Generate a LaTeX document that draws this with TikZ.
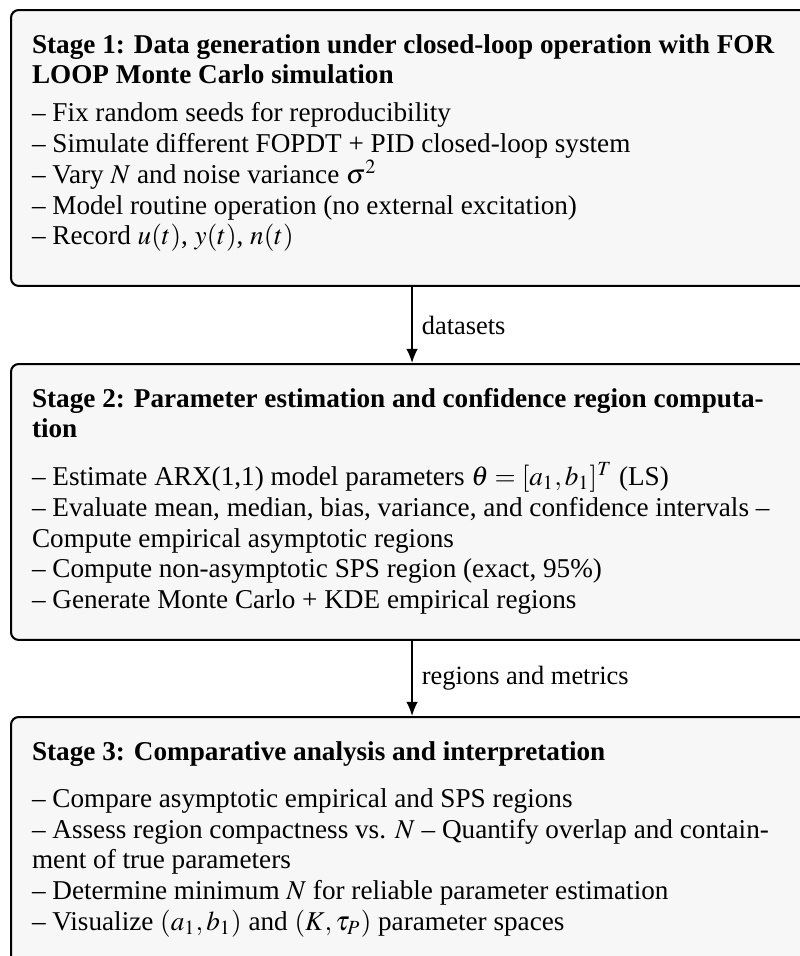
\documentclass[tikz,border=0pt]{standalone}
\usepackage{mathptmx}
\usepackage{fontspec}
\setmainfont{Liberation Serif}
\usetikzlibrary{arrows.meta}
\definecolor{boxfill}{HTML}{F7F7F7}
\newcommand{\stagebody}[1]{\parbox[t][90.8pt][t]{296.4pt}{\fontsize{10.6pt}{12pt}\selectfont\strut #1}}

\begin{document}
\begin{tikzpicture}[x=0.39pt, y=-0.39pt,
  stagebox/.style={draw=black, fill=boxfill, rounded corners=3pt, line width=0.8pt, anchor=north west, inner xsep=8.2pt, inner ysep=8.4pt},
  flowlabel/.style={right, xshift=0.2pt, font=\fontsize{10.3pt}{12pt}\selectfont},
  arr/.style={-{Latex[length=5.5pt,width=4.5pt]}, line width=0.6pt}]
\useasboundingbox (0,0) rectangle (800,956);

\node[stagebox] at (10,9) (stage1) {\stagebody{%
  \textbf{Stage 1: Data generation under closed-loop operation with FOR\\ LOOP Monte Carlo simulation}\\[2.8pt]
  -- Fix random seeds for reproducibility\\
  -- Simulate different FOPDT + PID closed-loop system\\
  -- Vary $N$ and noise variance $\sigma^2$\\
  -- Model routine operation (no external excitation)\\
  -- Record $u(t)$, $y(t)$, $n(t)$}};

\node[stagebox] at (10,363) (stage2) {\stagebody{%
  \textbf{Stage 2: Parameter estimation and confidence region computa-\\tion}\\[6.6pt]
  -- Estimate ARX(1,1) model parameters $\theta=[a_1,b_1]^T$ (LS)\\
  -- Evaluate mean, median, bias, variance, and confidence intervals --\\
  Compute empirical asymptotic regions\\
  -- Compute non-asymptotic SPS region (exact, 95\%)\\
  -- Generate Monte Carlo + KDE empirical regions}};

\node[stagebox] at (10,716) (stage3) {\stagebody{%
  \textbf{Stage 3: Comparative analysis and interpretation}\\[6.4pt]
  -- Compare asymptotic empirical and SPS regions\\
  -- Assess region compactness vs. $N$ -- Quantify overlap and contain-\\
  ment of true parameters\\
  -- Determine minimum $N$ for reliable parameter estimation\\
  -- Visualize $(a_1,b_1)$ and $(K,\tau_P)$ parameter spaces}};

\draw[arr] (stage1) -- node[flowlabel] (lbl1) {datasets} (stage2);
\draw[arr] (stage2) -- node[flowlabel] (lbl2) {regions and metrics} (stage3);
\end{tikzpicture}
\end{document}
